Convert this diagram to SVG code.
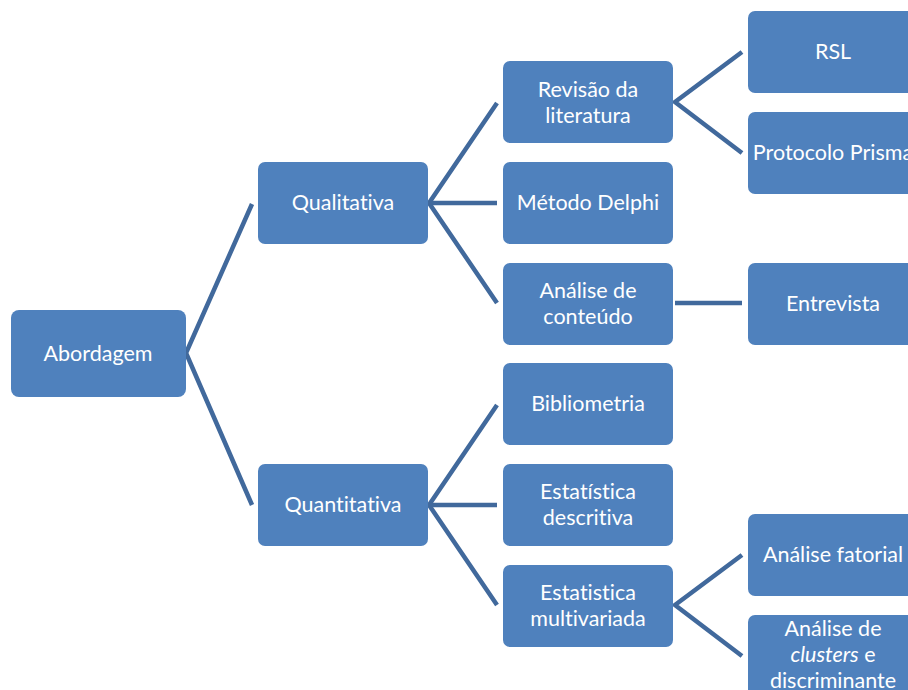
<svg xmlns="http://www.w3.org/2000/svg" width="908" height="690" viewBox="0 0 908 690">
  <style>
    .box { fill: #4f81bd; }
    .lbl { fill: #ffffff; font-family: Lato, "Open Sans", "Liberation Sans", sans-serif; font-size: 21.5px; text-anchor: middle; font-variant-ligatures: none; }
    .link { stroke: #41699c; stroke-width: 4.5; fill: none; stroke-linejoin: miter; }
  </style>
  <rect width="908" height="690" fill="#ffffff"/>

  <g id="connectors">
    <polyline class="link" points="252,204 186,353 252,505"/>
    <polyline class="link" points="497,103 429,203 497,303"/>
    <line class="link" x1="429" y1="203" x2="497" y2="203"/>
    <polyline class="link" points="497,405 429,505 497,605"/>
    <line class="link" x1="429" y1="505" x2="497" y2="505"/>
    <polyline class="link" points="742,52 675,102 742,153"/>
    <line class="link" x1="675" y1="303" x2="742" y2="303"/>
    <polyline class="link" points="742,555 675,605 742,656"/>
  </g>

  <g id="abordagem">
    <rect class="box" x="11" y="310" width="175" height="87" rx="8"/>
    <text class="lbl" x="98" y="361">Abordagem</text>
  </g>

  <g id="qualitativa">
    <rect class="box" x="258" y="162" width="170" height="82" rx="7"/>
    <text class="lbl" x="343" y="210">Qualitativa</text>
  </g>
  <g id="quantitativa">
    <rect class="box" x="258" y="464" width="170" height="82" rx="7"/>
    <text class="lbl" x="343" y="512">Quantitativa</text>
  </g>

  <g id="revisao">
    <rect class="box" x="503" y="61" width="170" height="82" rx="7"/>
    <text class="lbl" x="588" y="97">Revisão da</text>
    <text class="lbl" x="588" y="123">literatura</text>
  </g>
  <g id="delphi">
    <rect class="box" x="503" y="162" width="170" height="82" rx="7"/>
    <text class="lbl" x="588" y="210">Método Delphi</text>
  </g>
  <g id="conteudo">
    <rect class="box" x="503" y="263" width="170" height="82" rx="7"/>
    <text class="lbl" x="588" y="298">Análise de</text>
    <text class="lbl" x="588" y="324">conteúdo</text>
  </g>
  <g id="bibliometria">
    <rect class="box" x="503" y="363" width="170" height="82" rx="7"/>
    <text class="lbl" x="588" y="411">Bibliometria</text>
  </g>
  <g id="descritiva">
    <rect class="box" x="503" y="464" width="170" height="82" rx="7"/>
    <text class="lbl" x="588" y="499">Estatística</text>
    <text class="lbl" x="588" y="525">descritiva</text>
  </g>
  <g id="multivariada">
    <rect class="box" x="503" y="565" width="170" height="82" rx="7"/>
    <text class="lbl" x="588" y="600">Estatistica</text>
    <text class="lbl" x="588" y="626">multivariada</text>
  </g>

  <g id="rsl">
    <rect class="box" x="748" y="11" width="170" height="82" rx="7"/>
    <text class="lbl" x="833" y="59">RSL</text>
  </g>
  <g id="prisma">
    <rect class="box" x="748" y="112" width="170" height="82" rx="7"/>
    <text class="lbl" x="833" y="160">Protocolo Prisma</text>
  </g>
  <g id="entrevista">
    <rect class="box" x="748" y="263" width="170" height="82" rx="7"/>
    <text class="lbl" x="833" y="311">Entrevista</text>
  </g>
  <g id="fatorial">
    <rect class="box" x="748" y="514" width="170" height="82" rx="7"/>
    <text class="lbl" x="833" y="562">Análise fatorial</text>
  </g>
  <g id="clusters">
    <rect class="box" x="748" y="615" width="170" height="82" rx="7"/>
    <text class="lbl" x="833" y="636">Análise de</text>
    <text class="lbl" x="833" y="662"><tspan font-style="italic">clusters</tspan> e</text>
    <text class="lbl" x="833" y="688">discriminante</text>
  </g>
</svg>
